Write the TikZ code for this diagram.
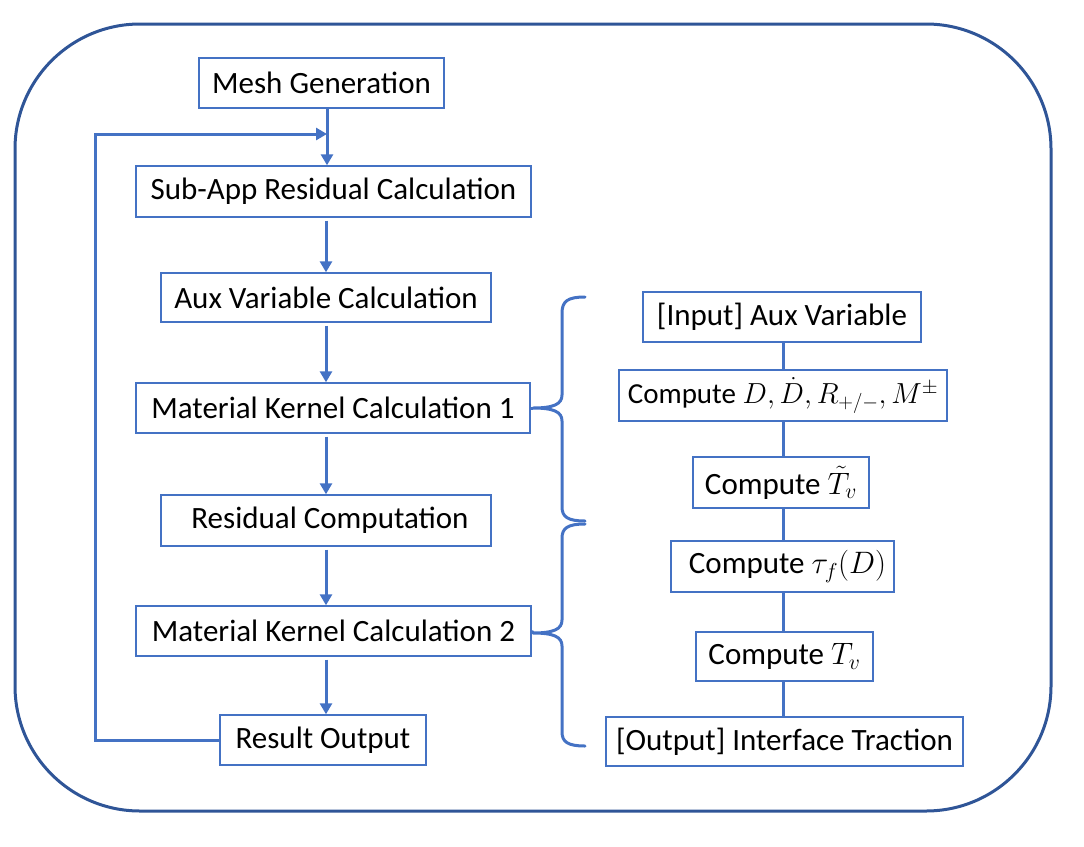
\RequirePackage{fix-cm}
\documentclass[tikz,border=0pt]{standalone}
\usepackage{fontspec}
\setmainfont{Carlito}
\usetikzlibrary{arrows.meta}
\definecolor{boxblue}{HTML}{4472C4}
\definecolor{outerblue}{HTML}{2F5597}
\tikzset{
  box/.style={draw=boxblue, line width=1.4pt, inner sep=0pt, align=center,
    font=\fontsize{31}{37}\selectfont},
  arr/.style={draw=boxblue, line width=3pt, -{Triangle[width=12pt,length=11pt]}},
  conn/.style={draw=boxblue, line width=3pt},
  bracestyle/.style={draw=boxblue, line width=3pt, line cap=round, line join=round},
  outerbox/.style={draw=outerblue, line width=3pt, rounded corners=125pt}
}
\begin{document}
\begin{tikzpicture}[x=1pt,y=-1pt]
\useasboundingbox (0,0) rectangle (1084,846);
\draw[outerbox] (15,24) rectangle (1051,811);

% left column
\node[box, minimum width=245pt, minimum height=50pt] (mesh) at (321.5,83) {Mesh Generation};
\node[box, minimum width=395pt, minimum height=51pt] (sub) at (333.5,191.5) {Sub-App Residual Calculation};
\node[box, minimum width=330pt, minimum height=49pt] (aux) at (326,297.5) {Aux Variable Calculation};
\node[box, minimum width=394pt, minimum height=50pt] (mk1) at (333,408) {Material Kernel Calculation 1};
\node[box, minimum width=330pt, minimum height=51pt] (res) at (326,520.5) {\hspace{8pt}Residual Computation};
\node[box, minimum width=395pt, minimum height=50pt] (mk2) at (333.5,631) {Material Kernel Calculation 2};
\node[box, minimum width=206pt, minimum height=50pt] (result) at (323,740) {Result Output};

\coordinate (loopin) at (327,134);
\coordinate (loopx) at (95,134);
\coordinate (lspine) at (326,0);

\draw[arr] (mesh.south -| loopin) -- (sub.north -| loopin);
\draw[arr] (result.west) -| (loopx) -- (loopin);
\draw[arr, shorten <=3pt] (sub.south -| lspine) -- (aux.north -| lspine);
\draw[arr, shorten <=3pt] (aux.south -| lspine) -- (mk1.north -| lspine);
\draw[arr, shorten <=3pt] (mk1.south -| lspine) -- (res.north -| lspine);
\draw[arr, shorten <=3pt] (res.south -| lspine) -- (mk2.north -| lspine);
\draw[arr, shorten <=3pt] (mk2.south -| lspine) -- (result.north -| lspine);

% right column
\node[box, minimum width=278pt, minimum height=50pt] (inp) at (782,317) {[Input] Aux Variable};
\node[box, minimum width=328pt, minimum height=51pt, font=\fontsize{29}{35}\selectfont] (cd) at (783,395.5) {Compute $D, \dot{D}, R_{+/-}, M^{\pm}$};
\node[box, minimum width=176pt, minimum height=51pt] (ct) at (781,482.5) {Compute $\tilde{T}_v$};
\node[box, minimum width=223pt, minimum height=51pt] (ctau) at (782.5,566.5) {\hspace{10pt}Compute $\tau_f(D)$};
\node[box, minimum width=177pt, minimum height=49pt] (ctv) at (784.5,656.5) {Compute $T_v$};
\node[box, minimum width=357pt, minimum height=49pt] (out) at (784.5,741.5) {[Output] Interface Traction};

\coordinate (rspine) at (783,0);
\draw[conn] (inp.south -| rspine) -- (cd.north -| rspine);
\draw[conn] (cd.south -| rspine) -- (ct.north -| rspine);
\draw[conn] (ct.south -| rspine) -- (ctau.north -| rspine);
\draw[conn] (ctau.south -| rspine) -- (ctv.north -| rspine);
\draw[conn] (ctv.south -| rspine) -- (out.north -| rspine);

% braces
\coordinate (tipa) at (533,408);
\coordinate (tipb) at (533,633);
\draw[conn] (mk1.east) -- (tipa);
\draw[conn] (mk2.east) -- (tipb);
\draw[bracestyle] (585,297) .. controls (568,297) and (562,301) .. (562,313)
  -- (562,395) .. controls (562,404) and (554,408) .. (tipa)
  .. controls (554,408) and (562,412) .. (562,421)
  -- (562,507) .. controls (562,517) and (568,521) .. (585,521);
\draw[bracestyle] (585,524) .. controls (568,524) and (562,528) .. (562,538)
  -- (562,620) .. controls (562,629) and (554,633) .. (tipb)
  .. controls (554,633) and (562,637) .. (562,646)
  -- (562,732) .. controls (562,742) and (568,746) .. (585,746);
\end{tikzpicture}
\end{document}
